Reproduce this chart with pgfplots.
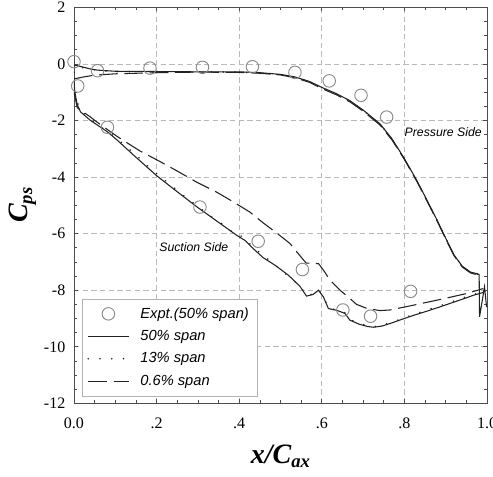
\documentclass[border=0pt]{standalone}
\usepackage{pgfplots}
\pgfplotsset{compat=1.18}
\usepackage{fontspec}
\setmainfont{Liberation Serif}
\newfontfamily\arialfont{Liberation Sans}
\definecolor{lc}{HTML}{222222}
\definecolor{mc}{HTML}{8A8A8A}
\pgfplotsset{
  markleg/.style={legend image code/.code={\draw[mark repeat=2,mark phase=2,##1] plot coordinates {(0cm,0cm) (0.53cm,0cm) (1.06cm,0cm)}; \path (1.28cm,0cm);}},
  lineleg/.style={legend image code/.code={\draw[##1] (0cm,0cm) -- (1.06cm,0cm); \path (1.28cm,0cm);}},
}
\begin{document}
\begin{tikzpicture}
\begin{axis}[
  name=ax,
  scale only axis,
  width=309.75pt, height=297pt,
  xmin=0, xmax=1, ymin=-12, ymax=2,
  xtick={0,0.2,0.4,0.6,0.8,1},
  xticklabels={0.0,.2,.4,.6,.8,1.0},
  ytick={-12,-10,-8,-6,-4,-2,0,2},
  minor x tick num=3, minor y tick num=3,
  tick align=inside,
  major tick length=3pt, minor tick length=2.2pt,
  grid=major,
  grid style={gray!55, dash pattern=on 4pt off 2.5pt, line width=0.5pt},
  axis line style={gray!60!black, line width=0.7pt},
  tick style={gray!60!black, line width=0.5pt},
  /pgf/number format/assume math mode=true,
  tick label style={font=\fontsize{12}{12}\selectfont},
  xticklabel style={yshift=-7.5pt},
  yticklabel style={xshift=-3pt},
  xlabel={\fontsize{21}{21}\selectfont\bfseries\itshape x/C\raisebox{-0.35ex}{\fontsize{14}{14}\selectfont ax}},
  ylabel={\fontsize{21}{21}\selectfont\bfseries\itshape C\raisebox{-0.35ex}{\fontsize{14}{14}\selectfont ps}},
  xlabel style={yshift=-5pt},
  ylabel style={yshift=-1pt},
  legend style={at={(0.019,0.018)}, anchor=south west, draw=gray!60,
    font=\arialfont\itshape\fontsize{11}{13}\selectfont,
    inner xsep=4pt, inner ysep=4.5pt, row sep=3.6pt, cells={anchor=west}},
  lineleg,
]
% experimental
\addplot[only marks, mark=o, mark size=4.7pt, color=mc, line width=0.7pt, markleg]
  coordinates {
  (0,0.08) (0.009,-0.78) (0.057,-0.24) (0.081,-2.24) (0.184,-0.15) (0.311,-0.12)
  (0.432,-0.1) (0.535,-0.30) (0.618,-0.60) (0.695,-1.11) (0.757,-1.88)
  (0.305,-5.06) (0.446,-6.27) (0.553,-7.27) (0.651,-8.70) (0.718,-8.92) (0.815,-8.04)
  };
\addlegendentry{Expt.(50\% span)}
% 50% span solid
\addplot[lc, line width=0.8pt] coordinates {
  (0,-0.04) (0.01,-0.07) (0.024,-0.12) (0.04,-0.18) (0.057,-0.22) (0.1,-0.26) (0.2,-0.27)
  (0.3,-0.28) (0.4,-0.28) (0.45,-0.31) (0.5,-0.37) (0.535,-0.46) (0.57,-0.62)
  (0.6,-0.83) (0.635,-1.05) (0.668,-1.3) (0.7,-1.63) (0.741,-2.12) (0.77,-2.65)
  (0.8,-3.35) (0.83,-4.12) (0.854,-4.8) (0.88,-5.55) (0.902,-6.22) (0.92,-6.75)
  (0.94,-7.15) (0.96,-7.36) (0.977,-7.42) (0.981,-7.45) (0.982,-8.94) (0.994,-7.88) (0.999,-8.6)
  };
\addlegendentry{50\% span}
\addplot[lc, line width=0.8pt, forget plot] coordinates {
  (0,-0.6) (0.002,-1.0) (0.008,-1.45) (0.016,-1.7) (0.04,-2.0) (0.081,-2.4)
  (0.105,-2.7) (0.15,-3.3) (0.2,-3.95) (0.25,-4.52) (0.3,-5.08) (0.35,-5.6)
  (0.394,-6.06) (0.414,-6.24) (0.434,-6.53) (0.458,-6.85) (0.487,-7.12) (0.519,-7.47)
  (0.547,-7.86) (0.563,-8.21) (0.579,-8.15) (0.592,-8.0) (0.604,-8.24) (0.616,-8.65)
  (0.636,-8.71) (0.656,-8.82) (0.668,-9.06) (0.69,-9.2) (0.71,-9.28) (0.725,-9.31)
  (0.745,-9.27) (0.765,-9.18) (0.79,-9.05) (0.822,-8.89) (0.855,-8.74) (0.886,-8.59)
  (0.92,-8.42) (0.95,-8.27) (0.967,-8.18) (0.991,-8.08)
  };
% 13% span dotted
\addplot[lc, line width=1.3pt, line cap=round, dash pattern=on 0pt off 8.8pt] coordinates {
  (0,-0.3) (0.01,-0.1) (0.03,-0.16) (0.057,-0.23) (0.1,-0.27) (0.2,-0.28) (0.3,-0.28)
  (0.4,-0.29) (0.45,-0.32) (0.5,-0.38) (0.535,-0.47) (0.57,-0.63) (0.6,-0.84)
  (0.635,-1.06) (0.668,-1.31) (0.7,-1.64) (0.741,-2.13) (0.77,-2.66) (0.8,-3.36)
  (0.83,-4.13) (0.854,-4.81) (0.88,-5.56) (0.902,-6.23) (0.92,-6.76) (0.94,-7.16)
  (0.96,-7.37) (0.98,-7.45)
  };
\addlegendentry{13\% span}
\addplot[lc, line width=1.3pt, line cap=round, dash pattern=on 0pt off 8.8pt, forget plot] coordinates {
  (0,-0.6) (0.003,-1.0) (0.01,-1.45) (0.02,-1.7) (0.04,-1.95) (0.071,-2.29) (0.1,-2.59)
  (0.128,-2.94) (0.156,-3.3) (0.184,-3.68) (0.214,-4.04) (0.24,-4.35) (0.267,-4.68)
  (0.297,-5.0) (0.325,-5.33) (0.354,-5.6) (0.378,-5.88) (0.402,-6.05) (0.44,-6.55)
  (0.483,-7.06) (0.516,-7.47) (0.547,-7.84) (0.563,-8.2) (0.579,-8.13) (0.592,-7.98)
  (0.604,-8.22) (0.616,-8.63) (0.636,-8.7) (0.656,-8.8) (0.668,-9.03) (0.69,-9.18)
  (0.725,-9.3) (0.765,-9.16) (0.822,-8.86) (0.886,-8.55) (0.95,-8.23) (0.991,-8.05)
  };
% 0.6% span dashed
\addplot[lc, line width=0.8pt, dash pattern=on 14pt off 5pt] coordinates {
  (0,-0.53) (0.02,-0.47) (0.048,-0.4) (0.1,-0.35) (0.2,-0.31) (0.3,-0.29) (0.4,-0.3)
  (0.45,-0.33) (0.5,-0.39) (0.535,-0.49) (0.57,-0.65) (0.6,-0.87) (0.635,-1.09)
  (0.668,-1.34) (0.7,-1.67) (0.741,-2.16) (0.77,-2.69) (0.8,-3.38) (0.83,-4.15)
  (0.854,-4.83) (0.88,-5.58) (0.902,-6.25) (0.92,-6.78) (0.94,-7.18) (0.96,-7.39) (0.98,-7.47)
  };
\addlegendentry{0.6\% span}
\addplot[lc, line width=0.8pt, dash pattern=on 14pt off 5pt, forget plot] coordinates {
  (0,-1.0) (0.008,-1.55) (0.04,-1.88) (0.055,-2.05) (0.103,-2.55) (0.135,-2.85)
  (0.16,-3.08) (0.208,-3.45) (0.249,-3.78) (0.297,-4.18) (0.345,-4.53) (0.386,-4.88)
  (0.426,-5.24) (0.458,-5.62) (0.491,-5.98) (0.523,-6.35) (0.551,-6.85) (0.562,-7.04)
  (0.592,-7.06) (0.604,-7.29) (0.62,-7.65) (0.644,-8.0) (0.664,-8.24) (0.684,-8.5)
  (0.71,-8.65) (0.741,-8.72) (0.765,-8.7) (0.822,-8.53) (0.886,-8.33) (0.95,-8.12) (0.991,-7.94)
  };
\node[anchor=west, inner sep=0pt, font=\arialfont\itshape\fontsize{9.2}{10}\selectfont] at (axis cs:0.8,-2.41) {Pressure Side};
\node[anchor=west, inner sep=0pt, font=\arialfont\itshape\fontsize{9.2}{10}\selectfont] at (axis cs:0.206,-6.49) {Suction Side};
\end{axis}
\pgfresetboundingbox
\path[use as bounding box] ([xshift=-55.5pt, yshift=-54.5pt]ax.south west) rectangle ++(369.75pt,357pt);
\end{tikzpicture}
\end{document}
